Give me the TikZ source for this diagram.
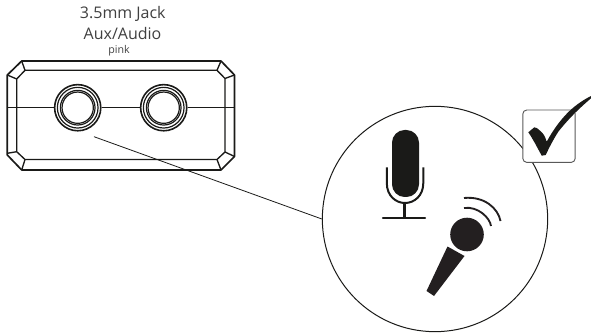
\documentclass[tikz,border=0pt]{standalone}
\usepackage{fontspec}
\setmainfont{Open Sans}
\definecolor{ink}{HTML}{1A1A18}
\definecolor{mic}{HTML}{231F20}
\tikzset{
  body/.style={draw=ink,line width=1.25pt,line join=round},
  thin/.style={draw=ink,line width=1pt,line join=round},
  ring/.style={circle,draw=ink,line width=0.9pt,inner sep=0pt,fill=none},
  lead/.style={draw=ink,line width=0.6pt},
  lab/.style={text=black!75,inner sep=0pt,align=center}
}
\begin{document}
\begin{tikzpicture}[x=0.75pt,y=-0.75pt]
\useasboundingbox (0,0) rectangle (591,334);
\node[lab,font=\fontsize{12pt}{14pt}\selectfont] (t1) at (122.8,13.5) {3.5mm Jack};
\node[lab,font=\fontsize{12pt}{14pt}\selectfont] (t2) at (122.5,34) {Aux/Audio};
\node[lab,font=\fontsize{8pt}{9pt}\selectfont] (t3) at (119,50.5) {pink};
% body
\draw[body] (21.7,61) -- (221,61) -- (234.5,75) -- (234.5,156.5) -- (221,170) -- (21.7,170) -- (7.3,155) -- (7.3,75) -- cycle;
\draw[thin] (25,70.3) -- (217,70.3) -- (225,78.5) -- (225,152) -- (217,159.5) -- (25,159.5) -- (16.7,151.7) -- (16.7,79) -- cycle;
\draw[thin] (21.7,61) -- (25,70.3) (221,61) -- (217,70.3) (234.5,75) -- (225,78.5) (7.3,75) -- (16.7,79)
  (21.7,170) -- (25,159.5) (221,170) -- (217,159.5) (234.5,156.5) -- (225,152) (7.3,153.3) -- (16.7,151.7);
\node[ring,line width=1.2pt,minimum size=34.6pt] (j1o) at (77.7,107.7) {};
\node[ring,minimum size=30.5pt] (j1m) at (77.7,107.7) {};
\node[ring,minimum size=26pt] (j1i) at (77.7,107.7) {};
\node[ring,minimum size=23.5pt] (j1c) at (77.7,107.7) {};
\node[ring,line width=1.2pt,minimum size=34.6pt] (j2o) at (163.7,107.7) {};
\node[ring,minimum size=30.5pt] (j2m) at (163.7,107.7) {};
\node[ring,minimum size=26pt] (j2i) at (163.7,107.7) {};
\node[ring,minimum size=23.5pt] (j2c) at (163.7,107.7) {};
\coordinate (bl) at (7.5,107.7);
\coordinate (br) at (234.5,107.7);
\draw[thin] (bl) -- (j1o.west);
\draw[thin] (j1o.east) -- (j2o.west);
\draw[thin] (j2o.east) -- (br);
% lens
\node[circle,draw=ink,line width=0.75pt,minimum size=169pt,inner sep=0pt] (lens) at (435,219) {};
\coordinate (src) at (94,136.7);
\draw[lead] (src) -- (lens.west);
% check box
\node[draw=black!65,fill=white,line width=0.7pt,rounded corners=3pt,minimum size=39.3pt,inner sep=0pt] (box) at (549,136.2) {};
\fill[ink] (591,96) .. controls (583,100) and (576,105) .. (570,110.5)
  .. controls (563,117) and (554,128) .. (546.7,141.7)
  .. controls (545,136) and (543,133) .. (540,130.7)
  .. controls (538,128.5) and (536,127.3) .. (534.3,127.3)
  -- (528.3,132.3) .. controls (531,136) and (533,140) .. (535,143.3)
  -- (541.7,155.7) -- (545.7,155) .. controls (549,148) and (553,140) .. (558.3,131.7)
  .. controls (566,122) and (575,112) .. (591,98.3) -- cycle;
% upright mic
\fill[ink,rounded corners=9.5pt] (392,130) rectangle (419,197);
\draw[ink,line width=1.5pt] (386.8,167.5) -- (386.8,183) .. controls (386.8,196) and (396,203) .. (405,203) .. controls (414,203) and (423.3,196) .. (423.3,183) -- (423.3,167.5);
\draw[ink,line width=1.6pt] (404.5,203) -- (404.5,218);
\draw[ink,line width=1.8pt,line cap=round] (383,218) -- (425,218);
% hand mic
\fill[mic] (467,234.5) circle (12.6pt);
\fill[mic] (447.5,246.5) -- (464.5,256) -- (434,296) -- (426.5,291) -- cycle;
\draw[mic,line width=1.4pt] (464,208) .. controls (478,206) and (490,218) .. (491,226);
\draw[mic,line width=1.4pt] (464,198) .. controls (484,196) and (498,208) .. (500.5,221);
\end{tikzpicture}
\end{document}
